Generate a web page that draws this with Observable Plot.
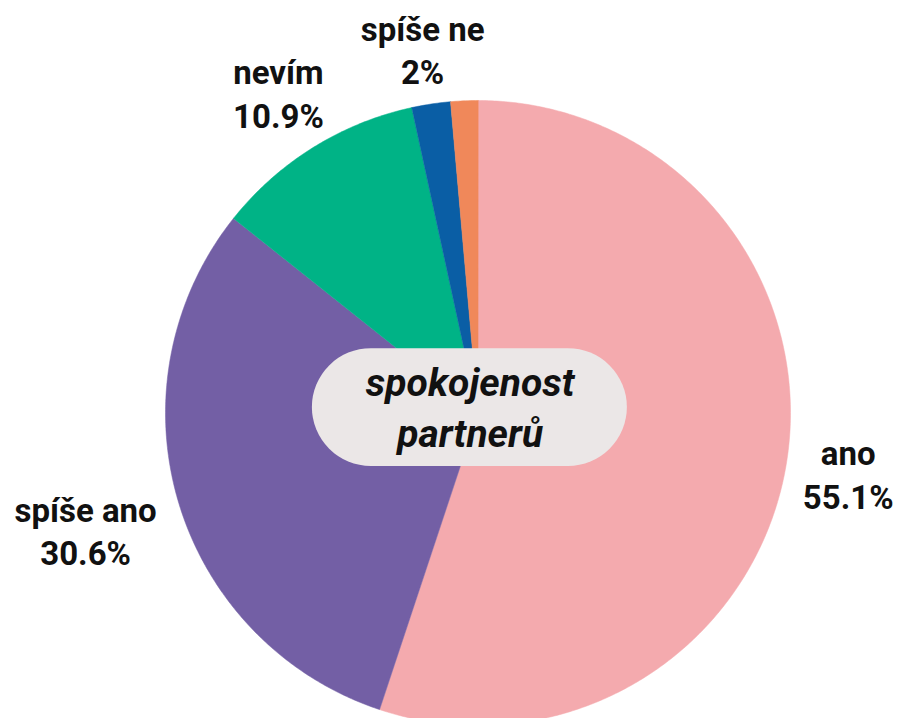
<!DOCTYPE html>
<html><head><meta charset="utf-8">
<script src="https://cdn.jsdelivr.net/npm/d3@7"></script>
<script src="https://cdn.jsdelivr.net/npm/@observablehq/plot@0.6"></script>
<style>body{margin:0;background:#fff}</style>
</head><body><div id="chart"></div>
<script>
const categories = ["ano", "spíše ano", "nevím", "spíše ne", "ne"];
const values = [55.1, 30.6, 10.9, 2, 1.4];
const labels = ["ano\n55.1%", "spíše ano\n30.6%", "nevím\n10.9%", "spíše ne\n2%", ""];
const colors = ["#F4AAAE", "#735FA5", "#00B386", "#0A5EA5", "#F0885A"];
const centerTitle = "spokojenost\npartnerů";

// label distance from centre, in radii
const labelRadius = {"ano": 1.2, "spíše ano": 1.31, "nevím": 1.21, "spíše ne": 1.18, "ne": 1.2};

const total = d3.sum(values);
let cum = 0;
const slices = categories.map((c, i) => {
  const a0 = cum / total * 2 * Math.PI;
  cum += values[i];
  const a1 = cum / total * 2 * Math.PI;
  const am = (a0 + a1) / 2, r = labelRadius[c];
  return {category: c, value: values[i], label: labels[i], a0, a1, lx: r * Math.sin(am), ly: r * Math.cos(am)};
});

const poly = slices.flatMap(s => {
  const n = Math.max(2, Math.ceil((s.a1 - s.a0) / (Math.PI / 360)));
  const pts = [{category: s.category, x: 0, y: 0}];
  for (let k = 0; k <= n; k++) {
    const a = s.a0 + (s.a1 - s.a0) * k / n;
    pts.push({category: s.category, x: Math.sin(a), y: Math.cos(a)});
  }
  return pts;
});

const chart = Plot.plot({
  width: 902,
  height: 718,
  margin: 0,
  style: {fontFamily: "Roboto", background: "#fff"},
  x: {domain: [-1, 1], range: [165, 790], axis: null},
  y: {domain: [-1, 1], range: [725, 100], axis: null},
  color: {domain: categories, range: colors},
  marks: [
    Plot.line(poly, {x: "x", y: "y", z: "category", fill: "category", stroke: "category", strokeWidth: 0.5, curve: "linear-closed"}),
    Plot.rect([centerTitle], {x1: -0.53, x2: 0.478, y1: -0.171, y2: 0.206, rx: 59, fill: "#EBE7E7"}),
    Plot.text([centerTitle], {x: -0.025, y: 0.024, text: d => d, fontSize: 39, fontWeight: "bold", fontStyle: "italic", lineHeight: 1.3, fill: "#111"}),
    Plot.text(slices.filter(s => s.label), {x: "lx", y: "ly", text: "label", fontSize: 33, fontWeight: "bold", lineHeight: 1.32, fill: "#111"})
  ]
});
document.getElementById("chart").appendChild(chart);
</script>
</body></html>
